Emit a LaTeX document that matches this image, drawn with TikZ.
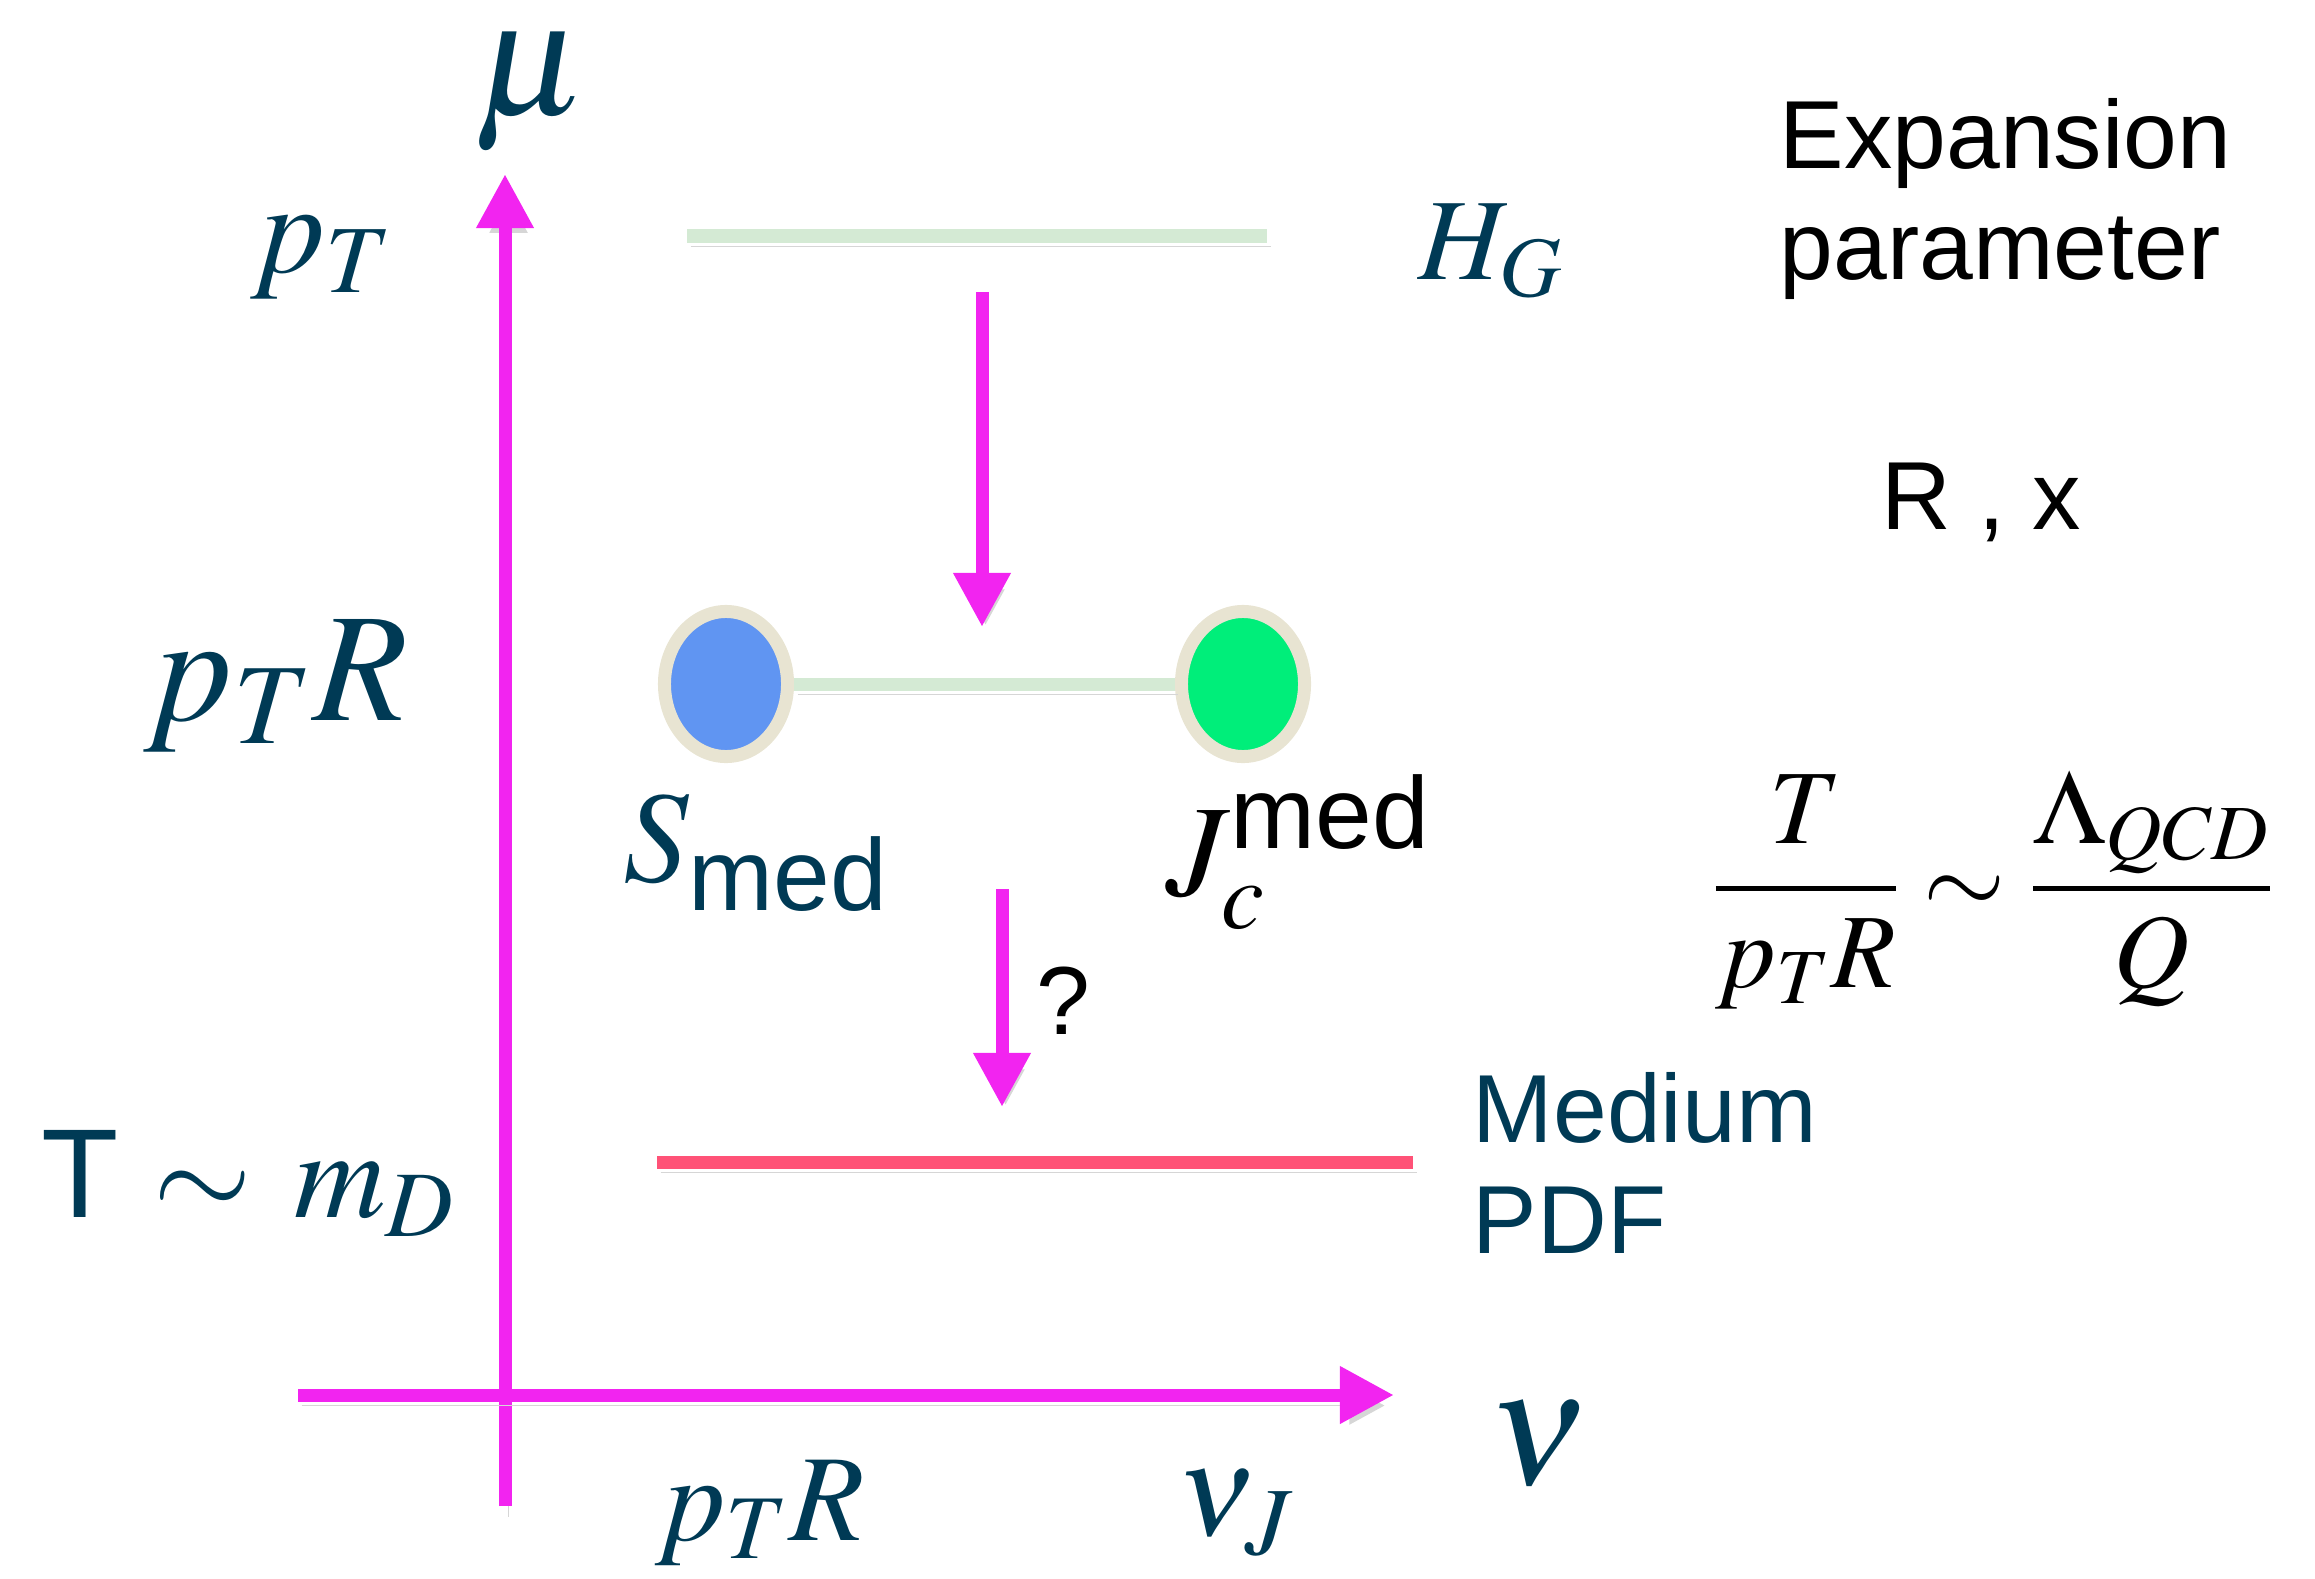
\documentclass[tikz,border=0pt]{standalone}
\usepackage{amsmath}
\usepackage{mathptmx}
\usepackage{fontspec}
\setmainfont{Liberation Sans}
\usetikzlibrary{arrows.meta,positioning,shapes.geometric}
\definecolor{Ink}{RGB}{0,58,85}
\definecolor{AxisMagenta}{RGB}{242,36,240}
\definecolor{LineGreen}{RGB}{212,234,212}
\definecolor{MediumPink}{RGB}{255,82,119}
\definecolor{RingBeige}{RGB}{232,228,210}
\definecolor{SoftBlue}{RGB}{96,149,242}
\definecolor{JetGreen}{RGB}{0,238,122}
\newcommand{\fs}[2]{\fontsize{#1}{#2}\selectfont}
\newcommand{\medlbl}{\mbox{\fontsize{29}{30}\selectfont med}}
\tikzset{
  lineshadow/.style={preaction={draw=black!16, transform canvas={xshift=1pt, yshift=-3pt}}},
  axis/.style={-{Triangle[length=0.54cm, width=0.54cm]}, line width=0.13cm,
    draw=AxisMagenta, lineshadow},
  flow/.style={-{Triangle[length=0.54cm, width=0.54cm]}, line width=0.13cm,
    draw=AxisMagenta, lineshadow},
  level/.style={line width=0.13cm, lineshadow},
  blob/.style={ellipse, draw=RingBeige, line width=0.13cm, inner sep=0pt,
    minimum width=1.23cm, minimum height=1.45cm},
  scalelbl/.style={text=Ink, inner sep=0pt},
  note/.style={inner sep=0pt, font=\fs{27.5}{31.5}}
}

\begin{document}
\begin{tikzpicture}[x=0.01cm, y=-0.01cm]
  \useasboundingbox (0,0) rectangle (2315,1579);
  \coordinate (ybot) at (505,1506);
  \coordinate (ytop) at (505,174);
  \coordinate (xleft) at (298,1395);
  \coordinate (xright) at (1394,1395);
  \coordinate (hgl) at (687,236);
  \coordinate (hgr) at (1267,236);
  \coordinate (medl) at (657,1162);
  \coordinate (medr) at (1413,1162);
  \coordinate (down1s) at (982,292);
  \coordinate (down1e) at (982,627);
  \coordinate (down2s) at (1002,889);
  \coordinate (down2e) at (1002,1107);

  \draw[axis] (ybot) -- (ytop);
  \draw[axis] (xleft) -- (xright);
  \draw[level, LineGreen] (hgl) -- (hgr);
  \draw[level, MediumPink] (medl) -- (medr);
  \draw[flow] (down1s) -- (down1e);
  \draw[flow] (down2s) -- (down2e);

  \node[blob, fill=SoftBlue] (soft) at (726,684) {};
  \node[blob, fill=JetGreen] (jet) at (1243,684) {};
  \draw[level, LineGreen] (soft.east) -- (jet.west);

  \node[scalelbl, font=\fs{47}{54}] (mu) at (531,92) {$\mu$};
  \node[scalelbl, font=\fs{37}{42}] (ptop) at (322,258) {$p_T$};
  \node[scalelbl, font=\fs{44}{50}] (pmid) at (276,686) {$p_T R$};
  \node[scalelbl, font=\fs{36}{41}] (tmd) at (248,1183) {T $\sim\, m_D$};
  \node[scalelbl, font=\fs{35}{40}] (pbot) at (760,1513) {$p_T R$};
  \node[scalelbl, font=\fs{37}{42}] (nuj) at (1236,1513) {$\nu_J$};
  \node[scalelbl, font=\fs{47}{54}] (nu) at (1538,1444) {$\nu$};
  \node[scalelbl, font=\fs{33}{38}] (hg) at (1491,251) {$H_G$};
  \node[scalelbl, font=\fs{37}{42}] (smed) at (756,853) {$S_{\medlbl}$};
  \node[inner sep=0pt, font=\fs{37}{42}] (jmed) at (1299,852) {$J_c^{\medlbl}$};
  \node[note] (qmark) at (1063,1001) {?};
  \node[scalelbl, note, anchor=west, align=left] (medpdf) at (1472,1163) {Medium\\PDF};
  \node[note, anchor=west, align=left] (expar) at (1779,199) {Expansion\\parameter};
  \node[note] (rx) at (1981,502) {R , x};
  \node[inner sep=0pt, font=\fs{30}{34}] (ratio) at (1993,890)
    {$\dfrac{T}{p_T R} \sim \dfrac{\Lambda_{QCD}}{Q}$};
\end{tikzpicture}
\end{document}
